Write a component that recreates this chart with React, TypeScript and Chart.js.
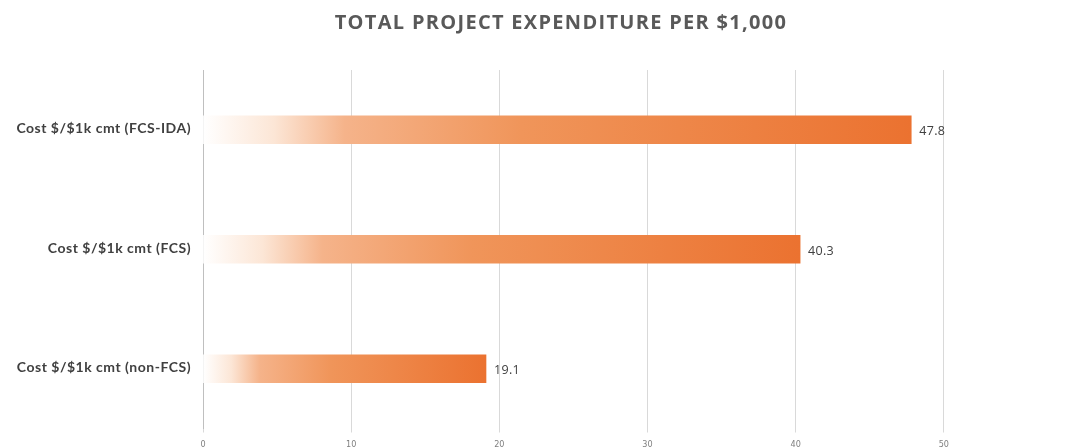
import React, { useEffect, useRef } from "react";
import { Chart, registerables } from "chart.js";

Chart.register(...registerables);

const categories = [
  "Cost $/$1k cmt (FCS-IDA)",
  "Cost $/$1k cmt (FCS)",
  "Cost $/$1k cmt (non-FCS)",
];
const values = [47.8, 40.3, 19.1];
const xTicks = [0, 10, 20, 30, 40, 50, 60];
const titleText = "TOTAL PROJECT EXPENDITURE PER $1,000";

const gradientStops: [number, string][] = [
  [0, "#FFFFFF"],
  [0.1, "#FCE6D6"],
  [0.2, "#F5B38A"],
  [0.45, "#F0955A"],
  [1, "#EB7230"],
];

const textPlugin = {
  id: "textPlugin",
  afterDraw(chart: any) {
    const ctx = chart.ctx;
    ctx.save();
    // title
    (ctx as any).letterSpacing = "1.3px";
    ctx.font = "bold 20px 'Open Sans'";
    ctx.fillStyle = "#595959";
    ctx.textAlign = "center";
    ctx.textBaseline = "middle";
    ctx.fillText(titleText, 561, 23);
    // category labels
    const ys = chart.scales.y;
    (ctx as any).letterSpacing = "0.5px";
    ctx.font = "bold 14px Lato";
    ctx.fillStyle = "#404040";
    ctx.textAlign = "right";
    categories.forEach((c, i) => {
      ctx.fillText(c, 191, ys.getPixelForValue(i) - 1);
    });
    // value labels
    (ctx as any).letterSpacing = "0.3px";
    ctx.font = "12.5px 'Open Sans'";
    ctx.textAlign = "left";
    const meta = chart.getDatasetMeta(0);
    meta.data.forEach((el: any, i: number) => {
      ctx.fillText(String(values[i]), el.x + 8, el.y + 2);
    });
    ctx.restore();
  },
};

export default function App() {
  const ref = useRef<HTMLCanvasElement>(null);
  useEffect(() => {
    if (!ref.current) return;
    const chart = new Chart(ref.current, {
      type: "bar",
      data: {
        labels: categories,
        datasets: [
          {
            data: values,
            barThickness: 28,
            borderWidth: 0,
            backgroundColor: (c: any) => {
              const ch = c.chart;
              const xs = ch.scales?.x;
              if (!xs || c.dataIndex === undefined) return "#EB7230";
              const x0 = xs.getPixelForValue(0);
              const x1 = xs.getPixelForValue(values[c.dataIndex]);
              if (!isFinite(x0) || !isFinite(x1) || x1 <= x0) return "#EB7230";
              const g = ch.ctx.createLinearGradient(x0, 0, x1, 0);
              gradientStops.forEach(([p, col]) => g.addColorStop(p, col));
              return g;
            },
          },
        ],
      },
      options: {
        indexAxis: "y",
        responsive: false,
        animation: false,
        devicePixelRatio: 1,
        layout: { padding: { left: 0, right: 18, top: 70, bottom: 0 } },
        plugins: {
          legend: { display: false },
          tooltip: { enabled: false },
          title: { display: false },
        },
        scales: {
          x: {
            min: 0,
            max: 60,
            afterBuildTicks: (s: any) => {
              s.ticks = xTicks.map((v) => ({ value: v }));
            },
            afterFit: (s: any) => {
              s.height = 18.5;
            },
            grid: {
              color: "#D9D9D9",
              lineWidth: 1,
              drawTicks: true,
              tickLength: 4,
            },
            border: { display: false },
            ticks: {
              color: "#7F7F7F",
              padding: 7,
              font: { family: "'DejaVu Sans Condensed', 'Liberation Sans Narrow', sans-serif", size: 9 },
            },
          },
          y: {
            afterFit: (s: any) => {
              s.width = 203;
            },
            grid: { display: false, drawTicks: false },
            border: { display: true, color: "#BFBFBF" },
            ticks: { display: false },
          },
        },
      },
      plugins: [textPlugin],
    } as any);
    return () => chart.destroy();
  }, []);
  return (
    <div
      style={{
        position: "fixed",
        left: 0,
        top: 0,
        width: 1086,
        height: 447,
        overflow: "hidden",
        background: "#FFFFFF",
      }}
    >
      <canvas ref={ref} width={1110} height={447} style={{ display: "block" }} />
    </div>
  );
}
